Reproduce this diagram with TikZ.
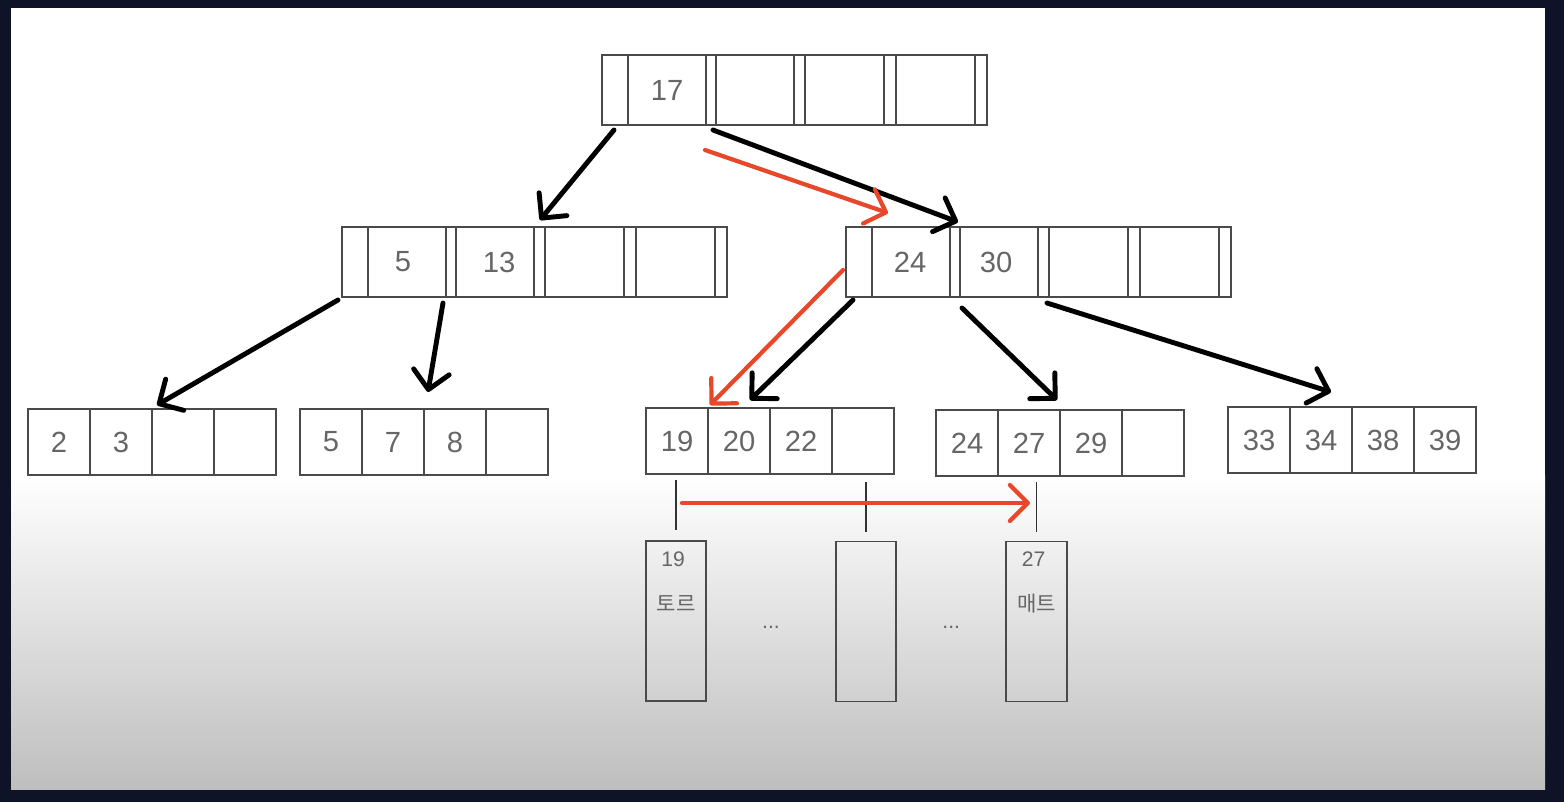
\documentclass[tikz,border=0pt]{standalone}
\usepackage{fontspec}
\setmainfont{Liberation Sans}
\newfontfamily\krfont{Noto Sans CJK KR}
\usetikzlibrary{positioning,arrows.meta,calc}
\definecolor{framenavy}{HTML}{0E1328}
\definecolor{fadegray}{HTML}{BEBEBE}
\definecolor{keygray}{HTML}{666666}
\definecolor{linegray}{HTML}{4A4A4A}
\definecolor{searchred}{HTML}{E8472A}

\begin{document}
\begin{tikzpicture}[
    every node/.style={font=\fontsize{8.3}{10}\selectfont, text=keygray},
    inner/.style={draw=linegray, line width=0.45pt, fill=white,
                  minimum width=3.85cm, minimum height=0.70cm,
                  inner sep=0pt, outer sep=0pt},
    cell/.style={draw=linegray, line width=0.45pt, fill=white,
                 minimum width=0.62cm, minimum height=0.66cm,
                 inner sep=0pt, outer sep=0pt},
    page/.style={draw=linegray, line width=0.45pt,
                 minimum width=0.60cm, minimum height=1.60cm,
                 inner sep=0pt, outer sep=0pt},
    pagetext/.style={font=\fontsize{6}{7}\selectfont, inner sep=0pt},
    ptr/.style={draw=black, line width=1.4pt, line cap=round,
                -{Straight Barb[round, length=0.18cm, width=0.36cm]}},
    hot/.style={ptr, draw=searchred, line width=1.2pt},
    link/.style={draw=black!80, line width=0.5pt}
  ]
      \useasboundingbox (0,0) rectangle (15.64,-8.02);
      % Screen frame and background
      \fill[framenavy] (0,0) rectangle (15.64,-8.02);
      \fill[white] (0.11,-0.08) rectangle (15.45,-4.76);
      \shade[top color=white, bottom color=fadegray] (0.11,-4.75) rectangle (15.45,-7.89);
      % Root and inner nodes
      \node[inner] (root) at (7.945,-0.90) {};
      \node[inner] (mid1) at (5.345,-2.62) {};
      \node[inner] (mid2) at (10.385,-2.62) {};
      \foreach \n in {root,mid1,mid2}
        \foreach \x in {0.26,1.04,1.14,1.92,2.03,2.82,2.94,3.73}
          \draw[linegray, line width=0.45pt] ([xshift=\x cm]\n.north west) -- ([xshift=\x cm]\n.south west);
      \node (k17) at ([xshift=0.65cm]root.west) {17};
      \node (k5) at ([xshift=0.61cm]mid1.west) {5};
      \node (k13) at ([xshift=1.57cm]mid1.west) {13};
      \node (k24) at ([xshift=0.64cm]mid2.west) {24};
      \node (k30) at ([xshift=1.50cm]mid2.west) {30};
      % Leaves
      \node[cell] (a1) at (0.59,-4.42) {2};
      \node[cell, right=0pt of a1] (a2) {3};
      \node[cell, right=0pt of a2] (a3) {};
      \node[cell, right=0pt of a3] (a4) {};
      \node[cell] (b1) at (3.31,-4.42) {5};
      \node[cell, right=0pt of b1] (b2) {7};
      \node[cell, right=0pt of b2] (b3) {8};
      \node[cell, right=0pt of b3] (b4) {};
      \node[cell] (c1) at (6.77,-4.41) {19};
      \node[cell, right=0pt of c1] (c2) {20};
      \node[cell, right=0pt of c2] (c3) {22};
      \node[cell, right=0pt of c3] (c4) {};
      \node[cell] (d1) at (9.67,-4.43) {24};
      \node[cell, right=0pt of d1] (d2) {27};
      \node[cell, right=0pt of d2] (d3) {29};
      \node[cell, right=0pt of d3] (d4) {};
      \node[cell] (e1) at (12.59,-4.40) {33};
      \node[cell, right=0pt of e1] (e2) {34};
      \node[cell, right=0pt of e2] (e3) {38};
      \node[cell, right=0pt of e3] (e4) {39};
      % Data pages
      \node[page] (p1) at (6.76,-6.21) {};
      \node[page] (p2) at (8.66,-6.215) {};
      \node[page, minimum width=0.61cm] (p3) at (10.365,-6.215) {};
      \node[pagetext] (p1key) at ([shift={(-0.03,-0.18)}]p1.north) {19};
      \node[pagetext] (p1val) at ([yshift=-0.62cm]p1.north) {\krfont 토르};
      \node[pagetext] (p3key) at ([shift={(-0.03,-0.18)}]p3.north) {27};
      \node[pagetext] (p3val) at ([yshift=-0.62cm]p3.north) {\krfont 매트};
      \node[pagetext, yshift=-0.06cm] (dots1) at ($(p1)!0.5!(p2)$) {...};
      \node[pagetext, yshift=-0.06cm] (dots2) at ($(p2)!0.5!(p3)$) {...};
      \draw[link] ([yshift=-0.06cm]c1.south -| p1.north) -- ([yshift=0.11cm]p1.north);
      \draw[link] ([yshift=-0.08cm]c1.south -| p2.north) -- ([yshift=0.10cm]p2.north);
      \draw[link] ([yshift=-0.08cm]c1.south -| p3.north) -- ([yshift=0.10cm]p3.north);
      % Pointers from the root
      \draw[ptr] ([shift={(0.12,-0.05)}]root.south west) -- ([shift={(1.98,0.07)}]mid1.north west);
      \draw[ptr] ([shift={(1.11,-0.05)}]root.south west) -- ([shift={(1.12,0.05)}]mid2.north west);
      \draw[hot] ([shift={(1.03,-0.25)}]root.south west) -- ([shift={(0.42,0.14)}]mid2.north west);
      % Pointers to the leaves
      \draw[ptr] ([shift={(-0.04,-0.03)}]mid1.south west) -- ([shift={(1.29,0.04)}]a1.north west);
      \draw[ptr] ([shift={(1.01,-0.06)}]mid1.south west) -- ([shift={(1.28,0.17)}]b1.north west);
      \draw[hot] ([shift={(-0.03,0.27)}]mid2.south west) -- ([shift={(0.64,0.03)}]c1.north west);
      \draw[ptr] ([shift={(0.07,-0.03)}]mid2.south west) -- ([shift={(1.04,0.08)}]c1.north west);
      \draw[ptr] ([shift={(1.16,-0.11)}]mid2.south west) -- ([shift={(1.21,0.10)}]d1.north west);
      \draw[ptr] ([shift={(2.01,-0.06)}]mid2.south west) -- ([shift={(1.03,0.15)}]e1.north west);
      % Range scan along the leaf
      \draw[hot] ([shift={(0.06,-0.29)}]c1.south -| p1.north) -- ([shift={(-0.065,-0.29)}]c1.south -| p3.north);
\end{tikzpicture}
\end{document}
